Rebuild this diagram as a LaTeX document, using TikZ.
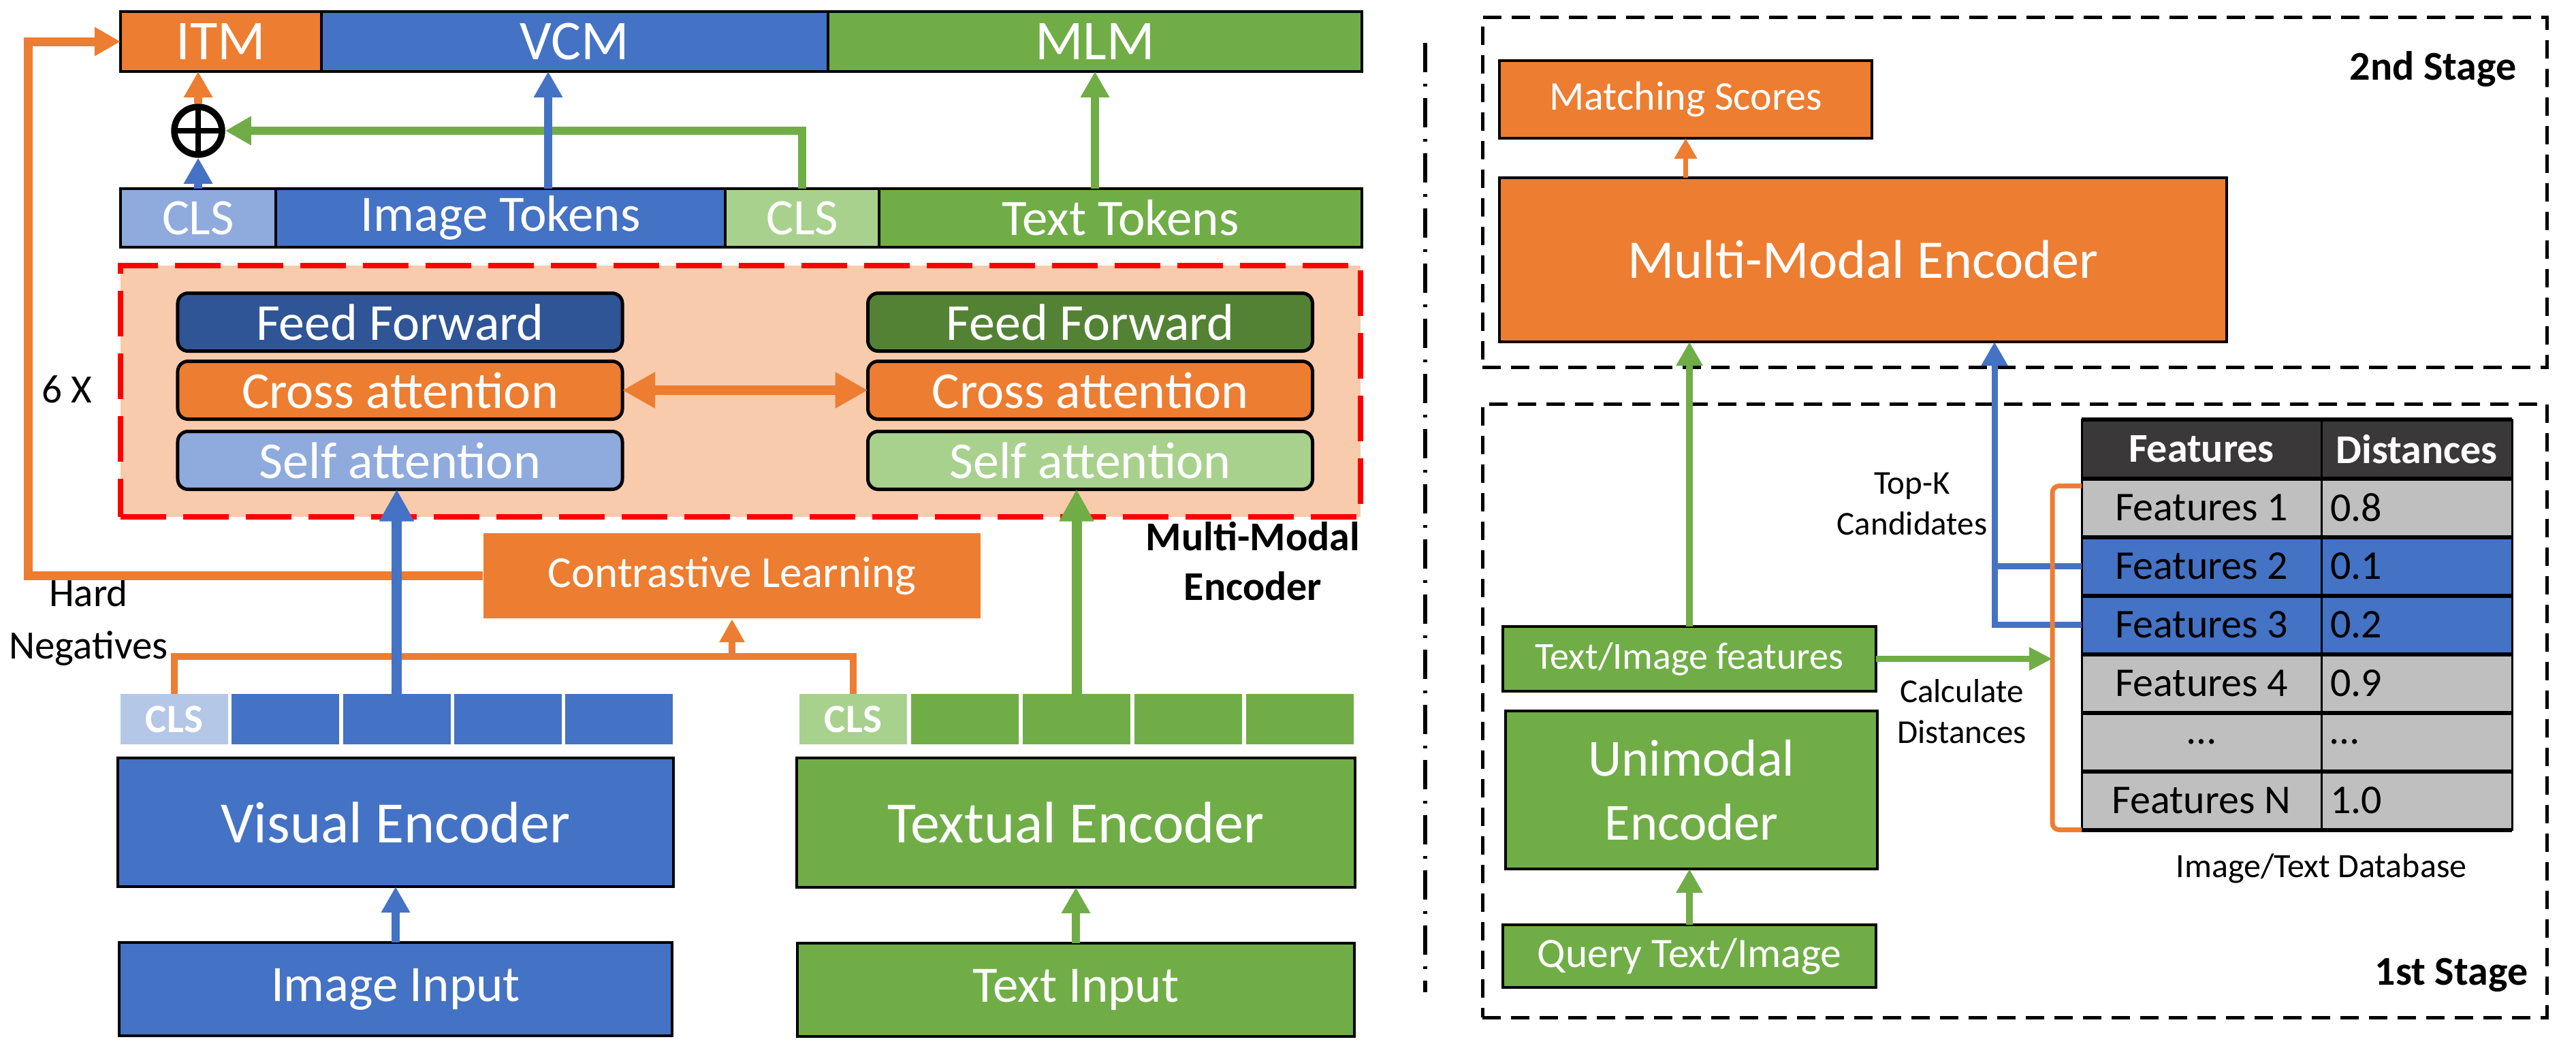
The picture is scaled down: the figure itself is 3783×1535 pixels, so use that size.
\documentclass[tikz,border=0pt]{standalone}
\usepackage{fontspec}
\setmainfont{Carlito}
\usetikzlibrary{positioning}
\usetikzlibrary{arrows.meta}

\definecolor{corange}{HTML}{ED7D31}
\definecolor{cblue}{HTML}{4472C4}
\definecolor{cgreen}{HTML}{70AD47}
\definecolor{cdblue}{HTML}{2F5597}
\definecolor{cdgreen}{HTML}{548235}
\definecolor{clblue}{HTML}{8FAADC}
\definecolor{clgreen}{HTML}{A9D18E}
\definecolor{cpale}{HTML}{B4C7E7}
\definecolor{cpeach}{HTML}{F8CBAD}
\definecolor{cgray}{HTML}{BFBFBF}
\definecolor{cdark}{HTML}{3A3838}

\tikzset{
  blk/.style={draw=black, line width=0.8pt, inner sep=0pt, outer sep=0pt, text=white},
  bar/.style={blk, minimum height=17.6pt, font=\fontsize{16.5}{18}\selectfont},
  tok/.style={blk, minimum height=17.2pt, font=\fontsize{15}{17}\selectfont},
  attn/.style={blk, line width=1pt, rounded corners=3pt, minimum width=130.6pt,
    minimum height=17pt, font=\fontsize{15.2}{17}\selectfont},
  cell/.style={inner sep=0pt, outer sep=0pt, minimum width=31.6pt, minimum height=14.8pt,
    text=white, font=\bfseries\fontsize{11.8}{13}\selectfont},
  enc/.style={blk, font=\fontsize{17.2}{19}\selectfont},
  rbox/.style={blk, line width=0.7pt, font=\fontsize{12}{14}\selectfont},
  lbl/.style={inner sep=0pt, align=center, font=\fontsize{11.8}{15.4}\selectfont},
  lbls/.style={inner sep=0pt, align=center, font=\fontsize{9.8}{12}\selectfont},
  lblb/.style={inner sep=0pt, align=center, font=\bfseries\fontsize{12}{14.6}\selectfont},
  sumnode/.style={circle, draw=black, line width=1.9pt, minimum size=14pt, inner sep=0pt,
    path picture={\draw[line width=1.7pt]
      (path picture bounding box.north) -- (path picture bounding box.south)
      (path picture bounding box.west) -- (path picture bounding box.east);}},
  fat/.style={line width=2.4pt, -{Triangle[length=7.6pt,width=8pt]}},
  fatter/.style={line width=3pt, -{Triangle[length=9.4pt,width=9.6pt]}},
  oline/.style={corange, line width=2pt},
  rarr/.style={line width=2pt, -{Triangle[length=7pt,width=7.4pt]}},
  th/.style={draw=black, line width=0.6pt, fill=cdark, text=white, inner sep=0pt, outer sep=0pt,
    minimum height=17.4pt, font=\bfseries\fontsize{12}{14}\selectfont},
  td/.style={draw=black, line width=0.6pt, inner xsep=2.6pt, inner ysep=0pt, outer sep=0pt,
    minimum height=17.2pt, font=\fontsize{12}{14}\selectfont},
  rule/.style={line width=1.2pt},
  stage/.style={draw=black, line width=1pt, dash pattern=on 5.4pt off 3pt,
    minimum width=312.6pt, inner sep=0pt}
}

\begin{document}
\begin{tikzpicture}[x=0.2pt, y=-0.2pt]
  \useasboundingbox (0,0) rectangle (3783,1535);

  % pre-training side
  \node[draw=red, fill=cpeach, line width=1.6pt, dash pattern=on 13.4pt off 5pt,
    minimum width=364.2pt, minimum height=73.8pt, inner sep=0pt] (mmbox) at (1087.5,574.5) {};

  \node[bar, fill=corange, minimum width=59pt] (itm) at (324.5,61) {ITM};
  \node[bar, fill=cblue, minimum width=148.8pt, right=0pt of itm] (vcm) {VCM};
  \node[bar, fill=cgreen, minimum width=156.8pt, right=0pt of vcm] (mlm) {MLM};

  \node[tok, fill=clblue, minimum width=45.6pt] (clsv) at (291,320) {CLS};
  \node[tok, fill=cblue, minimum width=132pt, right=0pt of clsv] (imgtok) {Image Tokens};
  \node[tok, fill=clgreen, minimum width=45.2pt, right=0pt of imgtok] (clst) {CLS};
  \node[tok, fill=cgreen, minimum width=141.8pt, right=0pt of clst] (txttok) {Text Tokens};

  \node[sumnode] (sum) at (291,192) {};

  \node[attn, fill=cdblue] (ffv) at (587.5,473) {Feed Forward};
  \node[attn, fill=corange, below=3pt of ffv] (cav) {Cross attention};
  \node[attn, fill=clblue, below=3.6pt of cav] (sav) {Self attention};
  \node[attn, fill=cdgreen] (fft) at (1601,473) {Feed Forward};
  \node[attn, fill=corange, below=3pt of fft] (cat) {Cross attention};
  \node[attn, fill=clgreen, below=3.6pt of cat] (sat) {Self attention};

  \node[lbl] (rep) at (98,572) {6 X};
  \node[lblb] (mmlbl) at (1840,824) {Multi-Modal\\Encoder};
  \node[lbl] (hn) at (130,914) {Hard\\Negatives};

  \node[fill=corange, text=white, inner sep=0pt, minimum width=146pt, minimum height=25pt,
    font=\fontsize{13}{15}\selectfont] (cl) at (1075,845.5) {Contrastive Learning};

  \node[cell, fill=cpale] (vt0) at (256,1056) {CLS};
  \foreach \i in {1,...,4}
    \node[cell, fill=cblue] (vt\i) at ({256+\i*163.3},1056) {};
  \node[cell, fill=clgreen] (tt0) at (1253,1056) {CLS};
  \foreach \i in {1,...,4}
    \node[cell, fill=cgreen] (tt\i) at ({1253+\i*164},1056) {};

  \node[enc, fill=cblue, minimum width=163.2pt, minimum height=37.8pt] (ve) at (581,1207.5) {Visual Encoder};
  \node[enc, fill=cblue, minimum width=162.4pt, minimum height=27.4pt, below=16.4pt of ve,
    font=\fontsize{15}{17}\selectfont] (ii) {Image Input};
  \node[enc, fill=cgreen, minimum width=164pt, minimum height=38pt] (te) at (1580,1208) {Textual Encoder};
  \node[enc, fill=cgreen, minimum width=163.6pt, minimum height=27.4pt, below=16.4pt of te,
    font=\fontsize{15}{17}\selectfont] (ti) {Text Input};

  \coordinate (vcmx) at (805,0);
  \coordinate (hnx) at (41,0);
  \coordinate (cljoin) at (1075,964);

  \draw[fat, corange] (sum) -- (itm.south -| sum);
  \draw[fat, cblue] (clsv.north -| sum) -- (sum);
  \draw[fat, cgreen] (clst.north) |- (sum);
  \draw[fat, cblue] (imgtok.north -| vcmx) -- (vcm.south -| vcmx);
  \draw[fat, cgreen] (txttok.north -| mlm.south) -- (mlm.south);
  \draw[corange, line width=2.8pt, {Triangle[length=9.6pt,width=10pt]}-{Triangle[length=9.6pt,width=10pt]}]
    (cav.east) -- (cat.west);
  \draw[fat, corange, line width=2.6pt] (cl.west) -| (hnx |- itm.west) -- (itm.west);
  \draw[oline] (vt0.north) |- (cljoin) -| (tt0.north);
  \draw[oline, -{Triangle[length=6.8pt,width=7pt]}] (cljoin) -- (cl.south);
  \draw[fatter, cblue] (vt2.north) -- (vt2.north |- sav.south);
  \draw[fatter, cgreen] (tt2.north) -- (tt2.north |- sat.south);
  \draw[fat, cblue] (ii.north) -- (ii.north |- ve.south);
  \draw[fat, cgreen] (ti.north) -- (ti.north |- te.south);

  % separator
  \coordinate (septop) at (2093,63);
  \coordinate (sepbot) at (2093,1457);
  \draw[line width=1.2pt, dash pattern=on 8.6pt off 3.4pt on 0.8pt off 3.4pt] (septop) -- (sepbot);

  % retrieval side
  \node[stage, minimum height=102.8pt] (s2) at (2958.5,282) {};
  \node[stage, minimum height=180.2pt] (s1) at (2958.5,1043.5) {};

  \node[rbox, fill=corange, minimum width=109.4pt, minimum height=22.8pt] (ms) at (2475.5,146) {Matching Scores};
  \node[rbox, fill=corange, minimum width=213.6pt, minimum height=48.2pt,
    font=\fontsize{16}{18}\selectfont] (mme) at (2736,381.5) {Multi-Modal Encoder};
  \node[lblb] (s2lbl) at (3573,102) {2nd Stage};

  \node[rbox, fill=cgreen, minimum width=109.6pt, minimum height=19pt,
    font=\fontsize{11.2}{13}\selectfont] (tif) at (2481,967.5) {Text/Image features};
  \node[rbox, fill=cgreen, minimum width=109.2pt, minimum height=46.4pt, align=center,
    font=\fontsize{15.3}{18.8}\selectfont] (ue) at (2484,1160) {Unimodal\\Encoder};
  \node[rbox, fill=cgreen, minimum width=109.6pt, minimum height=18.4pt,
    font=\fontsize{12.3}{14}\selectfont] (qti) at (2481,1404) {Query Text/Image};

  \node[th, minimum width=70.4pt] (h1) at (3233,659.5) {Features};
  \node[th, minimum width=56pt, right=0pt of h1] (h2) {Distances};
  \foreach \fa/\fb/\c [count=\r] in {{Features 1}/0.8/cgray, {Features 2}/0.1/cblue,
      {Features 3}/0.2/cblue, {Features 4}/0.9/cgray, {\dots}/{\dots}/cgray, {Features N}/1.0/cgray} {
    \node[td, fill=\c, minimum width=70.4pt] (f\r) at (3233,{659.5+\r*86}) {\fa};
    \node[td, fill=\c, text width=50.8pt, align=left, right=0pt of f\r] (d\r) {\fb};
  }
  \draw[rule] (h1.north west) -- (h2.north east);
  \draw[rule] (h1.south west) -- (h2.south east);
  \foreach \r in {1,...,6}
    \draw[rule] (f\r.south west) -- (d\r.south east);

  \node[lbls] (topk) at (2808,740) {Top-K\\Candidates};
  \node[lbls] (calc) at (2881,1045) {Calculate\\Distances};
  \node[lbls, font=\fontsize{10}{12}\selectfont] (db) at (3409,1275) {Image/Text Database};
  \node[lblb] (s1lbl) at (3600,1432) {1st Stage};

  \coordinate (topkx) at (2929,0);
  \coordinate (brk) at ([xshift=-8.6pt]f1.west);

  \draw[corange, line width=1.4pt, -{Triangle[length=6pt,width=6.4pt]}] (mme.north -| ms.south) -- (ms.south);
  \draw[rarr, cgreen] (tif.north) -- (tif.north |- mme.south);
  \draw[cblue, line width=1.8pt] (f2.west) -- (f2.west -| topkx);
  \draw[rarr, cblue, line width=1.8pt] (f3.west) -| (topkx |- mme.south);
  \draw[corange, line width=1.4pt, rounded corners=2pt]
    ([yshift=-2.2pt]f1.north west) -- ++(-8.6pt,0) |- (f6.south west);
  \draw[cgreen, line width=1.8pt, -{Triangle[length=6.8pt,width=6.4pt]}] (tif.east) -- (tif.east -| brk);
  \draw[rarr, cgreen] (qti.north) -- (qti.north |- ue.south);
\end{tikzpicture}
\end{document}
